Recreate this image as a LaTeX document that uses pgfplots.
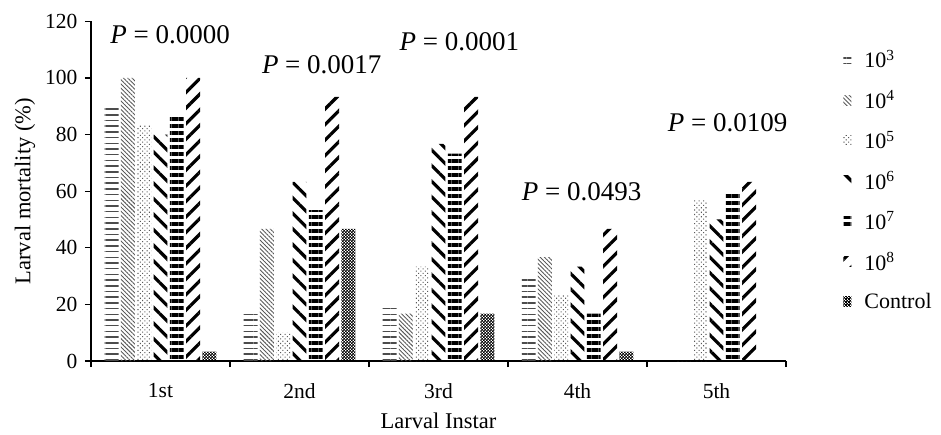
\documentclass[border=0pt]{standalone}
\usepackage{fontspec}
\setmainfont{Liberation Serif}
\usepackage{pgfplots}
\pgfplotsset{compat=1.18}
\usetikzlibrary{patterns,patterns.meta}

\pgfdeclarepatternformonly{smallcheck}{\pgfqpoint{0pt}{0pt}}{\pgfqpoint{2.8pt}{2.8pt}}{\pgfqpoint{2.8pt}{2.8pt}}{%
  \pgfpathrectangle{\pgfqpoint{0pt}{0pt}}{\pgfqpoint{1.75pt}{1.75pt}}%
  \pgfpathrectangle{\pgfqpoint{1.4pt}{1.4pt}}{\pgfqpoint{1.75pt}{1.75pt}}%
  \pgfusepath{fill}}

\pgfplotstableread{
x  a     b     c     d     e     f     g
1  90.0  100.0 83.3  80.0  86.7  100.0 3.3
2  16.7  46.7  10.0  63.3  53.3  93.3  46.7
3  20.0  16.7  33.3  76.7  73.3  93.3  16.7
4  30.0  36.7  23.3  33.3  16.7  46.7  3.3
5  0     0     56.7  50.0  60.0  63.3  0
}\data

\begin{document}
\begin{tikzpicture}[x=1pt,y=1pt]
\useasboundingbox (-91,-73) rectangle (850,361);
\begin{axis}[
  at={(0,0)}, anchor=south west,
  scale only axis, width=695pt, height=339.7pt,
  xmin=0.5, xmax=5.5, ymin=0, ymax=120,
  axis x line*=bottom, axis y line*=left,
  axis line style={-, line width=1.3pt},
  ytick={0,20,...,120},
  xtick={1,2,3,4,5},
  xticklabels={1st,2nd,3rd,4th,5th},
  minor xtick={0.5,1.5,...,5.5},
  major x tick style={draw=none},
  tick align=outside,
  major tick length=6pt, minor tick length=6pt,
  tick style={line width=1.2pt, black},
  /pgf/number format/assume math mode=true,
  tick label style={font=\fontsize{21.5}{25}\selectfont},
  xticklabel style={yshift=-13pt},
  yticklabel style={xshift=-4pt},
  xlabel={Larval Instar},
  ylabel={Larval mortality (\%)},
  label style={font=\fontsize{22.5}{26}\selectfont},
  xlabel style={yshift=-7pt},
  ylabel style={yshift=3pt},
  ybar, bar width=0.1,
  legend style={draw=none, at={(1.078,0.928)}, anchor=north west,
    font=\fontsize{22}{26}\selectfont, row sep=17.3pt,
    legend cell align=left,
    /tikz/every odd column/.append style={column sep=11pt}},
  legend image code/.code={\path[#1, draw=none] (0pt,-5pt) rectangle (8pt,5pt);},
  clip=false,
]
\addplot[draw=none, bar shift=-0.352, pattern={Lines[angle=0, distance=5.7pt, line width=1.5pt]}, pattern color=black!70] table[x=x,y=a]{\data};
\addplot[draw=none, bar shift=-0.235, pattern={Lines[angle=-45, distance=3pt, line width=0.9pt]}, pattern color=black!65] table[x=x,y=b]{\data};
\addplot[draw=none, bar shift=-0.117, pattern={Dots[angle=45, distance=3.2pt, radius=0.75pt]}, pattern color=black!65] table[x=x,y=c]{\data};
\addplot[draw=none, bar shift=0, pattern={Lines[angle=-45, distance=11pt, line width=3.2pt]}, pattern color=black] table[x=x,y=d]{\data};
\addplot[draw=none, bar shift=0.117, pattern={Lines[angle=0, distance=7pt, line width=3.5pt]}, pattern color=black] table[x=x,y=e]{\data};
\addplot[draw=none, bar shift=0.235, pattern={Lines[angle=45, distance=11pt, line width=3.2pt]}, pattern color=black] table[x=x,y=f]{\data};
\addplot[draw=none, bar shift=0.352, pattern=smallcheck, pattern color=black] table[x=x,y=g]{\data};
\legend{10\textsuperscript{3},10\textsuperscript{4},10\textsuperscript{5},10\textsuperscript{6},10\textsuperscript{7},10\textsuperscript{8},Control}
\node[font=\fontsize{27}{32}\selectfont] at (axis cs:1.07,115.2) {\textit{P} = 0.0000};
\node[font=\fontsize{27}{32}\selectfont] at (axis cs:2.16,104.6) {\textit{P} = 0.0017};
\node[font=\fontsize{27}{32}\selectfont] at (axis cs:3.15,112.7) {\textit{P} = 0.0001};
\node[font=\fontsize{27}{32}\selectfont] at (axis cs:4.03,59.8) {\textit{P} = 0.0493};
\node[font=\fontsize{27}{32}\selectfont] at (axis cs:5.08,84.0) {\textit{P} = 0.0109};
\end{axis}
\end{tikzpicture}
\end{document}
